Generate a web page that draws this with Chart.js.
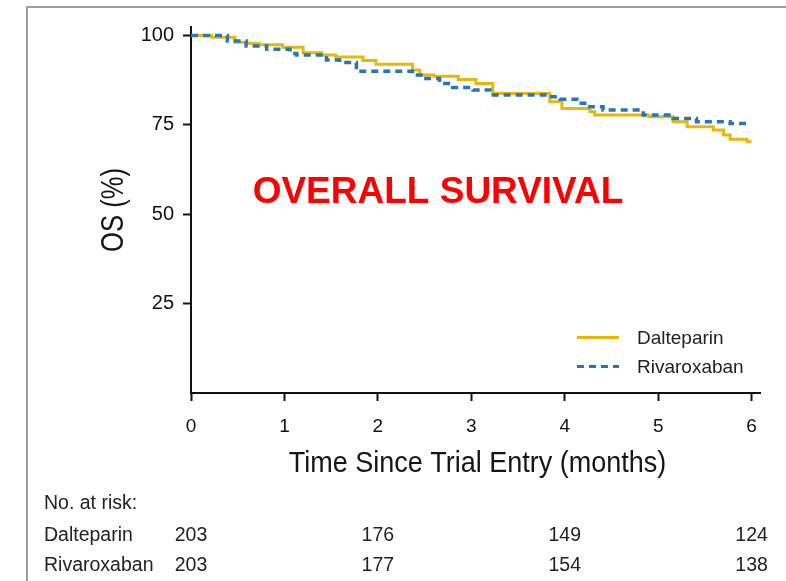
<!DOCTYPE html>
<html><head><meta charset="utf-8">
<script src="https://cdn.jsdelivr.net/npm/chart.js@4.4.1/dist/chart.umd.min.js"></script>
<style>html,body{margin:0;padding:0;background:#fff;overflow:hidden}#wrap{position:relative;width:786px;height:581px}</style>
</head><body><div id="wrap"><canvas id="c" width="786" height="581"></canvas></div>
<script>
// ---- data ----
const months = [0, 1, 2, 3, 4, 5, 6];
const yTickValues = [25, 50, 75, 100];
const seriesNames = ['Dalteparin', 'Rivaroxaban'];
const xTitle = 'Time Since Trial Entry (months)';
const yTitle = 'OS (%)';
const overlayLabel = 'OVERALL SURVIVAL';
const daltTimes = [0, 0.22, 0.47, 0.60, 0.73, 0.98, 1.20, 1.40, 1.55, 1.84, 1.98, 2.37, 2.45, 2.60, 2.86, 3.05, 3.23, 3.84, 3.97, 4.27, 4.32, 4.90, 5.16, 5.31, 5.59, 5.70, 5.77, 5.95, 6.00];
const daltSurv  = [100, 99.5, 98.1, 97.8, 97.4, 96.7, 95.2, 94.6, 94.0, 93.0, 92.0, 90.4, 89.0, 88.6, 87.7, 86.6, 83.8, 81.5, 79.6, 78.7, 77.8, 77.3, 75.9, 74.5, 73.6, 72.2, 71.0, 70.3, 70.3];
const rivaTimes = [0, 0.39, 0.59, 0.81, 1.06, 1.13, 1.45, 1.59, 1.77, 2.37, 2.48, 2.66, 2.80, 3.02, 3.20, 3.81, 3.95, 4.13, 4.24, 4.41, 4.84, 5.16, 5.41, 5.77, 5.97];
const rivaSurv  = [100, 98.5, 97.1, 96.2, 95.0, 94.6, 93.2, 92.5, 90.0, 89.0, 88.0, 86.6, 85.5, 84.8, 83.4, 82.9, 82.2, 81.1, 80.1, 79.2, 77.8, 76.8, 75.9, 75.4, 75.4];
const atRiskMonths = [0, 2, 4, 6];
const daltAtRisk = [203, 176, 149, 124];
const rivaAtRisk = [203, 177, 154, 138];

const SANS = "'Liberation Sans', Arial, sans-serif";
const pts = (t, v) => t.map((x, i) => ({x: x, y: v[i]}));

function squeezedText(ctx, text, x, y, sx, rot) {
  ctx.save();
  ctx.translate(x, y);
  if (rot) ctx.rotate(rot);
  ctx.scale(sx, 1);
  ctx.fillText(text, 0, 0);
  ctx.restore();
}

const extras = {
  id: 'extras',
  beforeDraw(chart) {
    const ctx = chart.ctx;
    ctx.save();
    ctx.strokeStyle = '#9c9c9c'; ctx.lineWidth = 2;
    ctx.beginPath(); ctx.moveTo(27, 581); ctx.lineTo(27, 7); ctx.lineTo(786, 7); ctx.stroke();
    ctx.restore();
  },
  afterDraw(chart) {
    const ctx = chart.ctx, xs = chart.scales.x, ca = chart.chartArea;
    ctx.save();
    // axis titles (condensed type)
    ctx.fillStyle = '#151515';
    ctx.textAlign = 'center'; ctx.textBaseline = 'alphabetic';
    ctx.font = '30px ' + SANS;
    squeezedText(ctx, xTitle, (ca.left + ca.right) / 2 + 2, 472, 0.90, 0);
    ctx.font = '32px ' + SANS;
    squeezedText(ctx, yTitle, 123, (ca.top + ca.bottom) / 2, 0.80, -Math.PI / 2);
    // red overlay label
    ctx.fillStyle = '#ff0000'; ctx.font = 'bold 37px ' + SANS;
    ctx.textAlign = 'center'; ctx.textBaseline = 'alphabetic';
    ctx.fillText(overlayLabel, 438, 203);
    // legend
    const ds = chart.data.datasets;
    const legY = [337.5, 366.5];
    const legBase = [344, 373];
    ctx.font = '19px ' + SANS; ctx.textAlign = 'left'; ctx.fillStyle = '#222';
    ds.forEach((d, i) => {
      ctx.save();
      ctx.strokeStyle = d.borderColor; ctx.lineWidth = 3;
      ctx.setLineDash(d.borderDash || []);
      ctx.beginPath(); ctx.moveTo(577, legY[i]); ctx.lineTo(619, legY[i]); ctx.stroke();
      ctx.restore();
      ctx.fillText(d.label, 637, legBase[i]);
    });
    // number at risk table
    ctx.fillStyle = '#222'; ctx.font = '19.5px ' + SANS; ctx.textBaseline = 'alphabetic';
    ctx.textAlign = 'left';
    ctx.fillText('No. at risk:', 44, 509);
    const rows = [[seriesNames[0], daltAtRisk, 541], [seriesNames[1], rivaAtRisk, 571]];
    rows.forEach(([name, vals, y]) => {
      ctx.textAlign = 'left'; ctx.fillText(name, 44, y);
      ctx.textAlign = 'center';
      atRiskMonths.forEach((m, j) => ctx.fillText(String(vals[j]), xs.getPixelForValue(m), y));
    });
    ctx.restore();
  }
};

new Chart(document.getElementById('c'), {
  type: 'line',
  data: {
    datasets: [
      {label: seriesNames[0], data: pts(daltTimes, daltSurv), borderColor: '#e8b70b', borderWidth: 3, stepped: 'before', pointRadius: 0, fill: false, order: 1},
      {label: seriesNames[1], data: pts(rivaTimes, rivaSurv), borderColor: '#2676b8', borderWidth: 3.5, borderDash: [7, 5], stepped: 'before', pointRadius: 0, fill: false, order: 0}
    ]
  },
  options: {
    responsive: false, animation: false, devicePixelRatio: 1,
    layout: {padding: {top: 27, right: 26, left: 0, bottom: 0}},
    plugins: {legend: {display: false}, tooltip: {enabled: false}},
    scales: {
      x: {
        type: 'linear', min: 0, max: 6.09,
        afterBuildTicks: s => { s.ticks = months.map(v => ({value: v})); },
        afterFit: s => { s.height = 188; },
        grid: {display: true, drawOnChartArea: false, drawTicks: true, tickLength: 8, tickWidth: 2, tickColor: '#111'},
        border: {display: true, color: '#111', width: 2},
        ticks: {font: {size: 19, family: SANS}, color: '#111', padding: 14, maxRotation: 0, autoSkip: false},
        title: {display: false}
      },
      y: {
        type: 'linear', min: 0, max: 102.4,
        afterBuildTicks: s => { s.ticks = yTickValues.map(v => ({value: v})); },
        afterFit: s => { s.width = 191; },
        grid: {display: true, drawOnChartArea: false, drawTicks: true, tickLength: 8, tickWidth: 2, tickColor: '#111'},
        border: {display: true, color: '#111', width: 2},
        ticks: {font: {size: 20, family: SANS}, color: '#111', padding: 9},
        title: {display: false}
      }
    }
  },
  plugins: [extras]
});
</script></body></html>
